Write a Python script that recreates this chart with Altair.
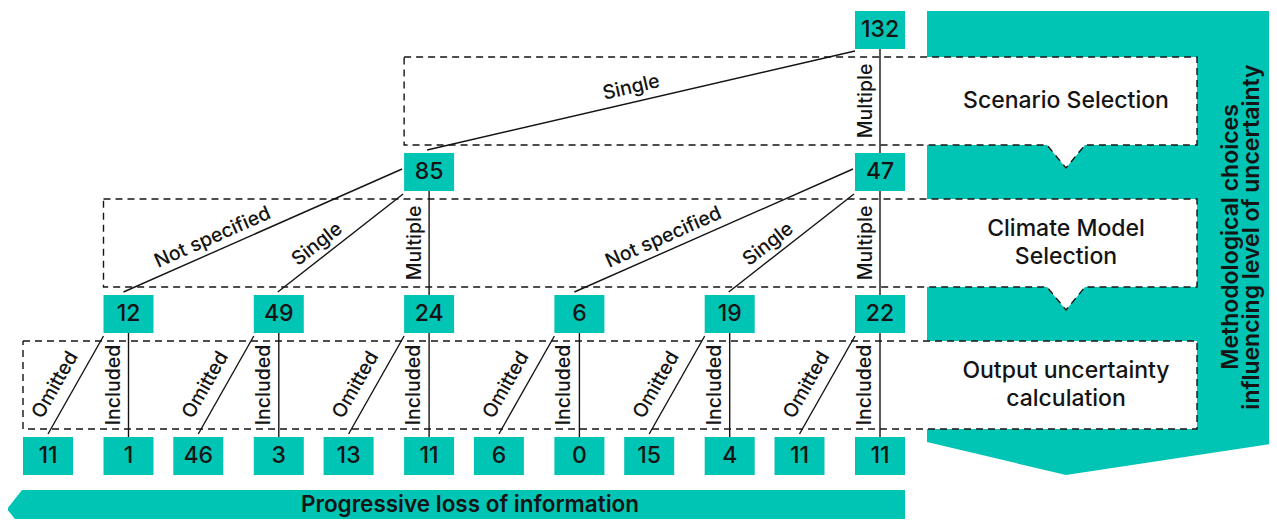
import math
import altair as alt
import pandas as pd

# ---------------- data ----------------
root_value = 132
scenario_labels = ["Single", "Multiple"]
scenario_values = [85, 47]
model_labels = ["Not specified", "Single", "Multiple"]
model_values = [[12, 49, 24], [6, 19, 22]]
uncert_labels = ["Omitted", "Included"]
uncert_values = [[11, 1], [46, 3], [13, 11], [6, 0], [15, 4], [11, 11]]
stage_titles = [["Scenario Selection"], ["Climate Model", "Selection"],
                ["Output uncertainty", "calculation"]]
side_title = ["Methodological choices", "influencing level of uncertainty"]
bottom_title = "Progressive loss of information"

# ---------------- layout / style ----------------
M = 8
W, H = 1261, 511
TEAL = "#00C4B4"
INK = "#141414"
FONT = "Inter"
BOX_W, BOX_H = 50, 38
TOP0, LEVEL_STEP = 11, 142
COL_X0, COL_STEP = 128.5, 150.3
LEAF_SHIFT = 80.5
PANEL_LEFT, PANEL_RIGHT = 927, 1197
NOTCH_X, NOTCH_HALF, NOTCH_DEPTH = 1066, 19, 23
GAP = 8

nodes, edges, labels = [], [], []


def node(value, cx, level):
    top = TOP0 + LEVEL_STEP * level
    nodes.append({"value": str(value), "x": cx - BOX_W / 2, "x2": cx + BOX_W / 2,
                  "y": top, "y2": top + BOX_H, "cx": cx, "cy": top + BOX_H / 2,
                  "level": level})
    return {"cx": cx, "top": top, "bottom": top + BOX_H, "cy": top + BOX_H / 2,
            "left": cx - BOX_W / 2}


def vertical(p, c, text, off=14.5):
    edges.append({"x": p["cx"], "y": p["bottom"], "x2": c["cx"], "y2": c["top"]})
    labels.append({"text": text, "x": p["cx"] - off,
                   "y": (p["bottom"] + c["top"]) / 2, "angle": 270})


def diagonal(start, end, text, frac, dist):
    edges.append({"x": start[0], "y": start[1], "x2": end[0], "y2": end[1]})
    dx, dy = start[0] - end[0], start[1] - end[1]
    L = math.hypot(dx, dy)
    ux, uy = dx / L, dy / L
    nx, ny = uy, -ux
    px, py = end[0] + frac * dx, end[1] + frac * dy
    ang = math.degrees(math.atan2(uy, ux)) % 360
    labels.append({"text": text, "x": px + dist * nx, "y": py + dist * ny, "angle": ang})


level2_x = [COL_X0 + COL_STEP * i for i in range(6)]
root = node(root_value, level2_x[5], 0)
for j, (sv, slab) in enumerate(zip(scenario_values, scenario_labels)):
    s = node(sv, level2_x[3 * j + 2], 1)
    if slab == "Multiple":
        vertical(root, s, slab)
    else:
        diagonal((root["left"], root["bottom"] + 2), (s["cx"] - 2, s["top"] - 3), slab, 0.485, 15)
    for k, (mv, mlab) in enumerate(zip(model_values[j], model_labels)):
        i = 3 * j + k
        m = node(mv, level2_x[i], 2)
        if mlab == "Multiple":
            vertical(s, m, mlab)
        elif mlab == "Single":
            diagonal((s["left"] - 1, s["bottom"] + 3), (m["cx"] - 1, m["top"] - 3), mlab, 0.38, 13.5)
        else:
            diagonal((s["left"] - 2, s["cy"] - 3), (m["cx"] - 5, m["top"] - 3), mlab, 0.34, 14)
        for uv, ulab in zip(uncert_values[i], uncert_labels):
            if ulab == "Included":
                leaf = node(uv, m["cx"], 3)
                vertical(m, leaf, ulab, 15)
            else:
                leaf = node(uv, m["cx"] - LEAF_SHIFT, 3)
                diagonal((m["left"], m["bottom"] + 3), (leaf["cx"], leaf["top"] - 3), ulab, 0.41, 18)

nodes_df = pd.DataFrame(nodes)
edges_df = pd.DataFrame(edges)
labels_df = pd.DataFrame(labels)

# stage boxes (white, dashed, with a notch pointing down)
fill_rows, line_rows, stage_rows = [], [], []
for s, lines in enumerate(stage_titles):
    top = TOP0 + LEVEL_STEP * s + BOX_H + GAP
    bottom = TOP0 + LEVEL_STEP * (s + 1) - GAP
    left = nodes_df[nodes_df.level == s + 1].x.min()
    notch = s < len(stage_titles) - 1
    fpts = [(left, bottom)]
    if notch:
        fpts += [(NOTCH_X - NOTCH_HALF, bottom), (NOTCH_X, bottom + NOTCH_DEPTH),
                 (NOTCH_X + NOTCH_HALF, bottom)]
    fpts += [(PANEL_RIGHT, bottom)]
    for x, yb in fpts:
        fill_rows.append({"box": s, "x": x, "y": top, "y2": yb})
    opts = [(left, top), (PANEL_RIGHT, top), (PANEL_RIGHT, bottom)]
    if notch:
        opts += [(NOTCH_X + NOTCH_HALF, bottom), (NOTCH_X, bottom + NOTCH_DEPTH),
                 (NOTCH_X - NOTCH_HALF, bottom)]
    opts += [(left, bottom), (left, top)]
    for o, (x, y) in enumerate(opts):
        line_rows.append({"box": s, "o": o, "x": x, "y": y})
    n = len(lines)
    for li, t in enumerate(lines):
        stage_rows.append({"text": t, "x": NOTCH_X,
                           "y": (top + bottom) / 2 + (li - (n - 1) / 2) * 28})

panel_df = pd.DataFrame([
    {"x": PANEL_LEFT, "y": TOP0, "y2": 442},
    {"x": NOTCH_X, "y": TOP0, "y2": 475},
    {"x": 1277, "y": TOP0, "y2": 443},
])
arrow_df = pd.DataFrame([
    {"x": 7, "y": 509, "y2": 509},
    {"x": 22, "y": 490, "y2": 528},
    {"x": nodes_df.x2.max(), "y": 490, "y2": 528},
])
side_df = pd.DataFrame([
    {"text": side_title[0], "x": 1230.5, "y": 237},
    {"text": side_title[1], "x": 1252, "y": 237},
])
bottom_df = pd.DataFrame([{"text": bottom_title, "x": 470, "y": 505}])

xs = alt.Scale(domain=[M, M + W], nice=False, zero=False)
ys = alt.Scale(domain=[M, M + H], reverse=True, nice=False, zero=False)


def X(f="x"):
    return alt.X(f"{f}:Q", scale=xs, axis=None)


def Y(f="y"):
    return alt.Y(f"{f}:Q", scale=ys, axis=None, stack=None)


def X2(f="x2"):
    return alt.X2(f"{f}:Q")


def Y2(f="y2"):
    return alt.Y2(f"{f}:Q")


panel = alt.Chart(panel_df).mark_area(color=TEAL, opacity=1, clip=True).encode(
    x=X(), y=Y(), y2=Y2())
arrow = alt.Chart(arrow_df).mark_area(color=TEAL, opacity=1, clip=True).encode(
    x=X(), y=Y(), y2=Y2())
box_fill = alt.Chart(pd.DataFrame(fill_rows)).mark_area(color="white", opacity=1).encode(
    x=X(), y=Y(), y2=Y2(), detail="box:N")
box_line = alt.Chart(pd.DataFrame(line_rows)).mark_line(
    color=INK, strokeWidth=1.4, strokeDash=[7, 5]).encode(
    x=X(), y=Y(), detail="box:N", order="o:Q")
edge_rules = alt.Chart(edges_df).mark_rule(color=INK, strokeWidth=1.4).encode(
    x=X(), y=Y(), x2=X2(), y2=Y2())
rects = alt.Chart(nodes_df).mark_rect(color=TEAL).encode(x=X(), y=Y(), x2=X2(), y2=Y2())
num_text = alt.Chart(nodes_df).mark_text(
    font=FONT, fontSize=23, fontWeight=500, color=INK, align="center", baseline="middle").encode(
    x=X("cx"), y=Y("cy"), text="value:N")
edge_text = alt.Chart(labels_df).mark_text(
    font=FONT, fontSize=19.5, fontWeight=500, color=INK, align="center", baseline="middle").encode(
    x=X(), y=Y(), text="text:N", angle=alt.Angle("angle:Q", scale=None))
stage_text = alt.Chart(pd.DataFrame(stage_rows)).mark_text(
    font=FONT, fontSize=23, fontWeight=500, color=INK, align="center", baseline="middle").encode(
    x=X(), y=Y(), text="text:N")
side_text = alt.Chart(side_df).mark_text(
    font=FONT, fontSize=23, fontWeight=600, color=INK, align="center", baseline="middle",
    angle=270).encode(x=X(), y=Y(), text="text:N")
bottom_text = alt.Chart(bottom_df).mark_text(
    font=FONT, fontSize=22.5, fontWeight=600, color=INK, align="center", baseline="middle").encode(
    x=X(), y=Y(), text="text:N")

chart = alt.layer(
    panel, arrow, box_fill, box_line, edge_rules, rects,
    num_text, edge_text, stage_text, side_text, bottom_text
).properties(width=W, height=H, padding=0, autosize="none").configure_view(stroke=None)

chart.save("out.html", embed_options={"renderer": "svg", "actions": False})
